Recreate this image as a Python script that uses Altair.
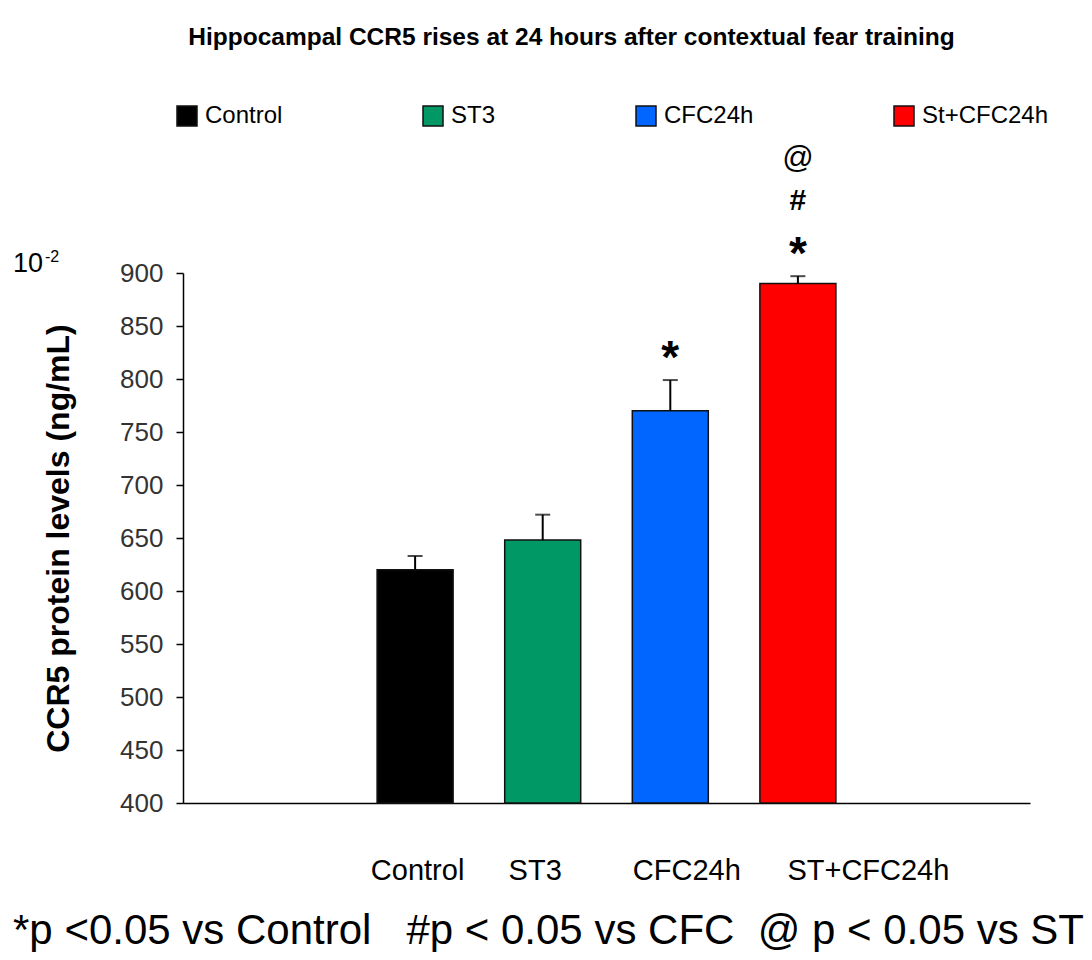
import json
import altair as alt
import pandas as pd

groups = ["Control", "ST3", "CFC24h", "ST+CFC24h"]
legend_names = ["Control", "ST3", "CFC24h", "St+CFC24h"]
means = [620, 648, 770, 890]
errors = [13, 24, 29, 7]
colors = ["#000000", "#009966", "#0066FF", "#FF0000"]
y_ticks = [400, 450, 500, 550, 600, 650, 700, 750, 800, 850, 900]

# significance marks, stacked from the bar upward
annot_groups = ["CFC24h", "ST+CFC24h", "ST+CFC24h", "ST+CFC24h"]
annot_symbols = ["*", "*", "#", "@"]

title_text = "Hippocampal CCR5 rises at 24 hours after contextual fear training"
y_title = "CCR5 protein levels (ng/mL)"
footnote = "*p <0.05 vs Control\u00a0\u00a0\u00a0#p < 0.05 vs CFC\u00a0\u00a0@ p < 0.05 vs ST"

df = pd.DataFrame({
    "group": groups,
    "legend": legend_names,
    "mean": means,
    "err": errors,
})
df["top"] = df["mean"] + df["err"]

adf = pd.DataFrame({"group": annot_groups, "symbol": annot_symbols})
adf = adf.merge(df[["group", "top"]], on="group", how="left")

W, H = 847, 530
SANS = "Liberation Sans, Arial, sans-serif"

groups_js = json.dumps(groups)
pos_expr = f"indexof({groups_js}, datum.group) + 1"

x_scale = alt.Scale(domain=[-0.78, 5.78], nice=False, zero=False)
x_enc = alt.X(
    "pos:Q",
    scale=x_scale,
    axis=alt.Axis(
        values=[1, 2, 3, 4],
        labelExpr=f"{groups_js}[datum.value - 1]",
        title=footnote,
        grid=False,
        labelAngle=0,
        labelFont=SANS,
        labelFontSize=29,
        labelColor="#000",
        labelPadding=53,
        labelOffset={
            "condition": [
                {"test": "datum.value == 2", "value": -8},
                {"test": "datum.value == 3", "value": 16},
                {"test": "datum.value == 4", "value": 70},
            ],
            "value": 2,
        },
        labelFlush=False,
        labelOverlap=False,
        ticks=False,
        domainColor="#000",
        domainWidth=1.5,
        titleFont=SANS,
        titleFontSize=42,
        titleFontWeight="normal",
        titleColor="#000",
        titleAlign="center",
        titleBaseline="alphabetic",
        titleX=365,
        titleY=140,
    ),
)
x_plain = alt.X("pos:Q", scale=x_scale)

y_scale = alt.Scale(domain=[400, 900], nice=False, zero=False)

base = alt.Chart(df).transform_calculate(pos=pos_expr)

bars = base.mark_bar(stroke="#111", strokeWidth=1.5, size=76).encode(
    x=x_enc,
    y=alt.Y(
        "mean:Q",
        scale=y_scale,
        axis=alt.Axis(
            values=y_ticks,
            title=y_title,
            grid=False,
            labelFont=SANS,
            labelFontSize=26,
            labelColor="#333",
            labelPadding=13,
            tickSize=7,
            tickColor="#000",
            tickWidth=1.5,
            domainColor="#000",
            domainWidth=1.5,
            titleFont=SANS,
            titleFontSize=32,
            titleFontWeight="bold",
            titleColor="#000",
            titlePadding=44,
        ),
    ),
    y2=alt.datum(400),
    color=alt.Color(
        "legend:N",
        scale=alt.Scale(domain=legend_names, range=colors),
        legend=alt.Legend(
            orient="none",
            legendX=-8,
            legendY=-169,
            direction="horizontal",
            columns=4,
            columnPadding=137,
            title=None,
            symbolType="square",
            symbolSize=400,
            symbolStrokeColor="#111",
            symbolStrokeWidth=1.5,
            labelFont=SANS,
            labelFontSize=24,
            labelColor="#000",
            labelOffset=6,
            labelLimit=0,
        ),
    ),
)

err_rule = base.mark_rule(color="#000", strokeWidth=2).encode(
    x=x_plain,
    y=alt.Y("mean:Q", scale=y_scale),
    y2="top:Q",
)

err_cap = base.mark_tick(color="#000", thickness=2, size=15, orient="horizontal").encode(
    x=x_plain,
    y=alt.Y("top:Q", scale=y_scale),
)

abase = alt.Chart(adf).transform_calculate(pos=pos_expr)


def sig_layer(symbol, size, weight, dy):
    return abase.transform_filter(
        alt.datum.symbol == symbol
    ).mark_text(
        font=SANS,
        fontSize=size,
        fontWeight=weight,
        baseline="alphabetic",
        dy=dy,
        color="#000",
    ).encode(
        x=x_plain,
        y=alt.Y("top:Q", scale=y_scale),
        text="symbol:N",
    )


star = sig_layer("*", 46, "bold", -7)
hash_ = sig_layer("#", 30, "bold", -66)
at = sig_layer("@", 31, "normal", -108)

exp_df = pd.DataFrame({"base": ["10"], "sup": ["-2"]})
exp_base = alt.Chart(exp_df).mark_text(
    font=SANS, fontSize=27, align="left", baseline="alphabetic", color="#000"
).encode(x=alt.value(-170), y=alt.value(-1), text="base:N")
exp_sup = alt.Chart(exp_df).mark_text(
    font=SANS, fontSize=16, align="left", baseline="alphabetic", color="#000"
).encode(x=alt.value(-138), y=alt.value(-11), text="sup:N")

chart = alt.layer(
    bars, err_rule, err_cap, star, hash_, at, exp_base, exp_sup
).properties(
    width=W,
    height=H,
    padding={"left": 175, "top": 265, "right": 54, "bottom": 149},
    autosize=alt.AutoSizeParams(type="none"),
    title=alt.TitleParams(
        text=title_text,
        font=SANS,
        fontSize=24.5,
        fontWeight="bold",
        color="#000",
        anchor="middle",
        dx=-35,
        offset=54,
    ),
).configure_view(stroke=None)

chart.save("out.html", embed_options={"renderer": "svg", "actions": False})
